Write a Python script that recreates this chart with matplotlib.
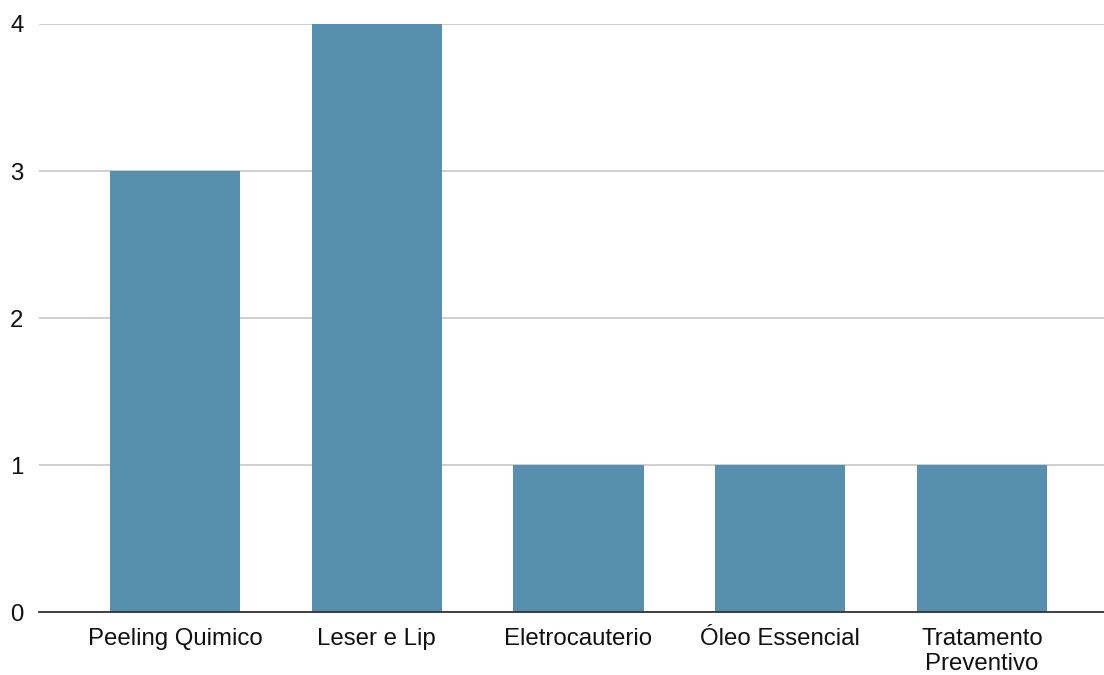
import matplotlib
matplotlib.use("Agg")
import matplotlib.pyplot as plt

categories = ["Peeling Quimico", "Leser e Lip", "Eletrocauterio", "Óleo Essencial", "Tratamento\nPreventivo"]
values = [3, 4, 1, 1, 1]
yticks = [0, 1, 2, 3, 4]

plt.rcParams["font.family"] = ["Liberation Sans", "DejaVu Sans"]

fig = plt.figure(figsize=(11.04, 6.75), dpi=100)
ax = fig.add_axes([0.0351, 0.0929, 0.9649, 0.8716])

bar_color = "#5790ae"
x = list(range(len(categories)))
ax.bar(x, values, width=0.645, color=bar_color, zorder=3)

ax.set_xlim(-0.676, 4.605)
ax.set_ylim(0, 4)
ax.set_yticks(yticks)
ax.set_yticklabels([str(t) for t in yticks])
ax.set_xticks(x)
ax.set_xticklabels(categories, linespacing=1.2)

ax.grid(axis="y", color="#cccccc", linewidth=1.3, zorder=0)
ax.set_axisbelow(True)
for s in ["top", "right", "left"]:
    ax.spines[s].set_visible(False)
ax.spines["bottom"].set_color("#333333")
ax.spines["bottom"].set_linewidth(1.3)
ax.spines["bottom"].set_zorder(4)

ax.tick_params(axis="both", length=0, labelsize=17.3, colors="#111111")
ax.tick_params(axis="y", pad=11)
ax.tick_params(axis="x", pad=11)

fig.savefig("out.png", dpi=100, facecolor="white")
